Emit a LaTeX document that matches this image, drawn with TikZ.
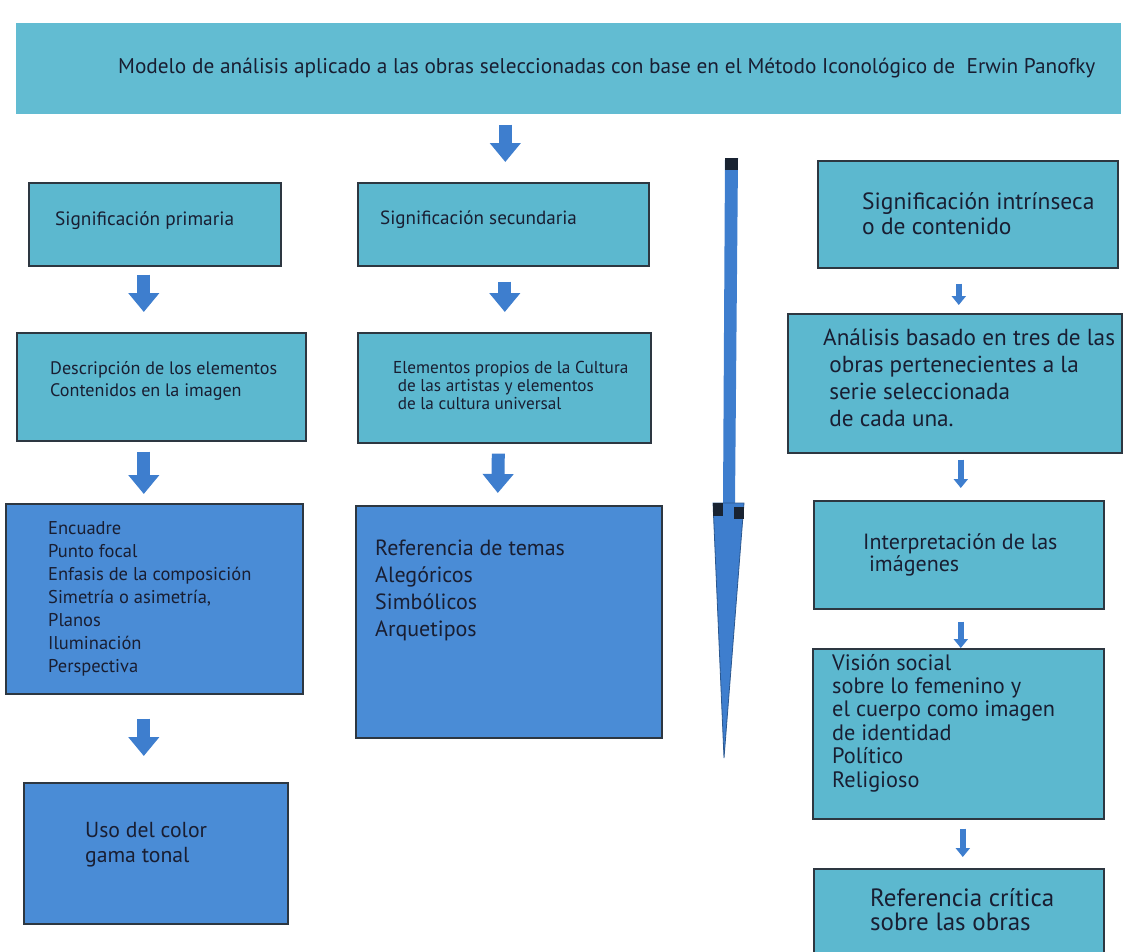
\documentclass[tikz,border=0pt]{standalone}
\usepackage{fontspec}
\setmainfont{PT Sans}
\usetikzlibrary{arrows.meta,calc}
\definecolor{lightbox}{RGB}{92,184,207}
\definecolor{bannerc}{RGB}{98,188,210}
\definecolor{darkbox}{RGB}{74,140,214}
\definecolor{arrowblue}{RGB}{62,126,206}
\definecolor{edgec}{RGB}{45,55,65}
\definecolor{txtc}{RGB}{25,30,50}
\definecolor{capc}{RGB}{25,35,50}
\newcommand{\mylines}[1]{\begin{tabular}[t]{@{}l@{}}#1\end{tabular}}
\begin{document}
\begin{tikzpicture}[x=1pt,y=-1pt,
  box/.style={draw=edgec, line width=1.6pt, fill=lightbox, rectangle, inner sep=0pt, anchor=north west},
  dbox/.style={box, fill=darkbox},
  lbl/.style={anchor=base west, inner sep=0pt, text=txtc},
  barrow/.style={draw=arrowblue, line width=13pt, -{Triangle[width=30pt,length=19pt]}},
  sarrow/.style={draw=arrowblue, line width=6.5pt, -{Triangle[width=14pt,length=9pt]}},
]
\useasboundingbox (0,0) rectangle (1123,951);
\clip (0,0) rectangle (1123,951);

% banner
\node[box, draw=none, fill=bannerc, minimum width=1105pt, minimum height=91pt] (banner) at (15,22) {};
\node[lbl, font=\fontsize{21.3}{25}\selectfont] (bannerT) at (118,73) {Modelo de análisis aplicado a las obras seleccionadas con base en el Método Iconológico de\ \ Erwin Panofky};

% left column
\node[box, minimum width=252pt, minimum height=83pt] (prim) at (28,182) {};
\node[lbl, font=\fontsize{19.3}{23}\selectfont] (primT) at (55,225) {Significación primaria};
\node[box, minimum width=289pt, minimum height=108pt] (desc) at (16,332) {};
\node[lbl, font=\fontsize{18.1}{22}\selectfont] (descT) at (50,374) {\mylines{Descripción de los elementos\\Contenidos en la imagen}};
\node[dbox, minimum width=297pt, minimum height=190pt] (enc) at (5,503) {};
\node[lbl, font=\fontsize{18.5}{23}\selectfont] (encT) at (48,534) {\mylines{Encuadre\\Punto focal\\Enfasis de la composición\\Simetría o asimetría,\\Planos\\Iluminación\\Perspectiva}};
\node[dbox, minimum width=264pt, minimum height=141pt] (uso) at (23,782) {};
\node[lbl, font=\fontsize{21.7}{25}\selectfont] (usoT) at (85,837) {\mylines{Uso del color\\gama tonal}};

% middle column
\node[box, minimum width=291pt, minimum height=83pt] (sec) at (357,182) {};
\node[lbl, font=\fontsize{19.1}{23}\selectfont] (secT) at (380,224) {Significación secundaria};
\node[box, minimum width=293pt, minimum height=110pt] (elem) at (357,332) {};
\node[lbl, font=\fontsize{17.2}{18}\selectfont] (elemT) at (393,373) {\mylines{Elementos propios de la Cultura\\\ de las artistas y elementos\\\ de la cultura universal}};
\node[dbox, minimum width=306pt, minimum height=232pt] (ref) at (355,505) {};
\node[lbl, font=\fontsize{22}{27}\selectfont] (refT) at (375,555) {\mylines{Referencia de temas\\Alegóricos\\Simbólicos\\Arquetipos}};

% right column
\node[box, minimum width=300pt, minimum height=107pt] (intr) at (817,160) {};
\node[lbl, font=\fontsize{23.5}{25}\selectfont] (intrT) at (862,209) {\mylines{Significación intrínseca\\o de contenido}};
\node[box, minimum width=334pt, minimum height=139pt] (anal) at (787,313) {};
\node[lbl, font=\fontsize{23.2}{27}\selectfont] (analT) at (823,345) {\mylines{Análisis basado en tres de las\\\ obras pertenecientes a la\\\ serie seleccionada\\\ de cada una.}};
\node[box, minimum width=290pt, minimum height=108pt] (interp) at (813,500) {};
\node[lbl, font=\fontsize{22}{22}\selectfont] (interpT) at (863,549) {\mylines{Interpretación de las\\\ imágenes}};
\node[box, minimum width=291pt, minimum height=170pt] (vis) at (812,648) {};
\node[lbl, font=\fontsize{22.3}{23.4}\selectfont] (visT) at (832,670) {\mylines{Visión social\\sobre lo femenino y\\el cuerpo como imagen\\de identidad\\Político\\Religioso}};
\node[box, minimum width=290pt, minimum height=100pt] (refc) at (813,868) {};
\node[lbl, font=\fontsize{25}{24.5}\selectfont] (refcT) at (870,906) {\mylines{Referencia crítica\\sobre las obras}};

% block arrows
\draw[barrow] ($(banner.south -| sec.north)+(2,10)$) -- ($(sec.north)+(2,-20)$);
\draw[barrow] ($(prim.south)+(-11,8)$) -- ($(desc.north)+(-17.5,-20)$);
\draw[barrow] ($(desc.south)+(-17.5,10)$) -- ($(enc.north)+(-10.5,-9)$);
\draw[barrow] ($(enc.south)+(-10.5,24)$) -- ($(uso.north)+(-12,-26)$);
\draw[barrow] ($(sec.south)+(1.5,15)$) -- ($(elem.north)+(0.5,-20)$);
\draw[barrow] ($(elem.south)+(-6,10)$) -- ($(ref.north)+(-11,-12)$);
\draw[sarrow] ($(intr.south)+(-9,15)$) -- ($(anal.north)+(4,-8)$);
\draw[sarrow] ($(anal.south)+(6,6)$) -- ($(interp.north)+(2,-12)$);
\draw[sarrow] ($(interp.south)+(2,12)$) -- ($(vis.north)+(2.5,0)$);
\draw[sarrow] ($(vis.south)+(4.5,9)$) -- ($(refc.north)+(4,-11)$);

% big vertical arrow
\coordinate (bigtop) at (731.5,158);
\coordinate (bighead) at (729,503);
\coordinate (bigtip) at (724,758);
\fill[arrowblue] ($(bigtop)+(-6.5,0)$) -- ($(bigtop)+(6.5,0)$) -- ($(bighead)+(6,0)$) -- ($(bighead)+(-6,0)$) -- cycle;
\fill[capc] ($(bigtop)+(-6.5,0)$) rectangle ($(bigtop)+(6.5,12)$);
\filldraw[fill=arrowblue, draw=arrowblue!70!black, line width=0.8pt] ($(bighead)+(-16,0)$) -- ($(bighead)+(15,0)$) -- (bigtip) -- cycle;
\fill[capc] ($(bighead)+(-16,0)$) rectangle ($(bighead)+(-6,13)$);
\fill[capc] ($(bighead)+(5,4)$) rectangle ($(bighead)+(15,16)$);
\end{tikzpicture}
\end{document}
